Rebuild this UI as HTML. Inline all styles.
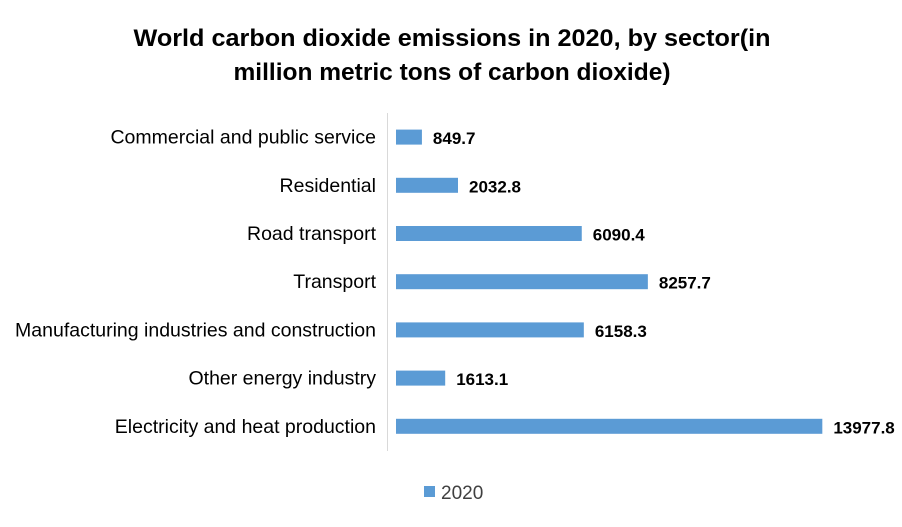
<!DOCTYPE html>
<html><head><meta charset="utf-8"><style>
body{margin:0;background:#fff;}
svg{display:block;font-family:"Liberation Sans",Arial,sans-serif;}
</style></head><body>
<svg id="chart" width="902" height="527">
<text x="452" y="46" text-anchor="middle" font-size="24.5" font-weight="bold" fill="#000" textLength="637" lengthAdjust="spacingAndGlyphs">World carbon dioxide emissions in 2020, by sector(in</text>
<text x="452" y="80" text-anchor="middle" font-size="24.5" font-weight="bold" fill="#000">million metric tons of carbon dioxide)</text>
<line x1="387.5" y1="113" x2="387.5" y2="451" stroke="#d9d9d9" stroke-width="1"/>
<g id="bars"></g>
<rect x="424" y="486" width="11" height="11" fill="#5b9bd5"/>
<text x="441" y="499" font-size="19" fill="#404040">2020</text>
</svg>
<script>
const categories=["Commercial and public service","Residential","Road transport","Transport","Manufacturing industries and construction","Other energy industry","Electricity and heat production"];
const values=[849.7,2032.8,6090.4,8257.7,6158.3,1613.1,13977.8];
const labels=["849.7","2032.8","6090.4","8257.7","6158.3","1613.1","13977.8"];
const ns="http://www.w3.org/2000/svg";
const g=document.getElementById("bars");
const x0=396, scaleX=v=>x0+v*0.0305;
const yTop=113, band=48.2, yC=i=>yTop+band*(i+0.5);
categories.forEach((c,i)=>{
  const y=yC(i);
  const r=document.createElementNS(ns,"rect");
  r.setAttribute("x",x0);r.setAttribute("y",y-7.5);
  r.setAttribute("width",scaleX(values[i])-x0);r.setAttribute("height",15);
  r.setAttribute("fill","#5b9bd5");
  
  
  g.appendChild(r);
  const t=document.createElementNS(ns,"text");
  t.setAttribute("x",376);t.setAttribute("y",y+6.5);t.setAttribute("text-anchor","end");
  t.setAttribute("font-size","19.5");t.setAttribute("fill","#000");t.textContent=c;
  
  
  g.appendChild(t);
  const v=document.createElementNS(ns,"text");
  v.setAttribute("x",scaleX(values[i])+11);v.setAttribute("y",y+7);
  v.setAttribute("font-size","17");v.setAttribute("font-weight","bold");v.setAttribute("fill","#000");
  v.textContent=labels[i];
  
  
  g.appendChild(v);
});
</script>
</body></html>
